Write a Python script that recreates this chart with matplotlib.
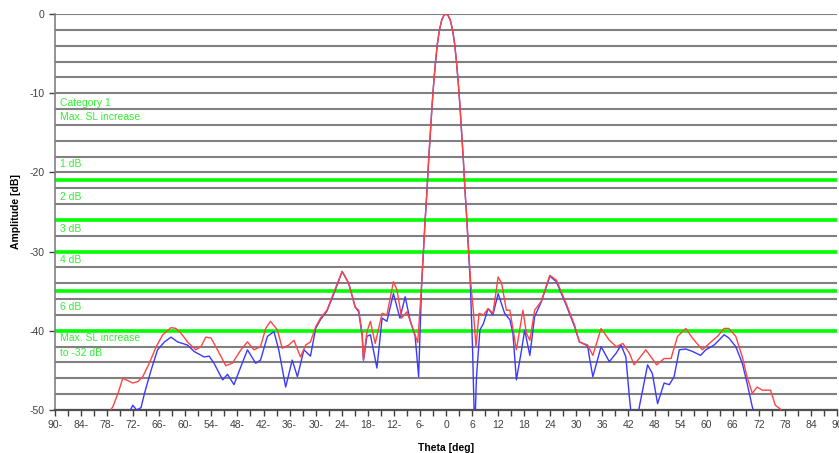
import numpy as np
import matplotlib
matplotlib.use('Agg')
import matplotlib.pyplot as plt

plt.rcParams['font.family'] = ['Liberation Sans', 'DejaVu Sans']
plt.rcParams['axes.unicode_minus'] = False

# red curve (theta [deg], amplitude [dB])
theta_red = [-78.0, -76.7, -75.5, -74.4, -73.2, -72.1, -70.9, -69.8, -68.3, -66.7,
             -65.2, -63.3, -62.2, -61.0, -59.5, -57.6, -56.4, -55.3, -54.1, -52.6,
             -50.7, -49.2, -47.2, -45.7, -44.2, -42.7, -41.5, -40.4, -38.8, -37.7,
             -36.2, -35.0, -33.5, -32.3, -31.2, -30.0, -28.9, -27.4, -25.8, -23.9,
             -22.4, -20.9, -20.1, -19.3, -19.0, -18.2, -17.4, -16.3, -14.7, -13.6,
             -12.1, -11.3, -10.2, -9.0, -7.5, -6.5, -5.6, -5.1, -4.8, -4.4, -4.0,
             -3.6, -3.2, -2.8, -2.4, -2.0, -1.5, -1.0, -0.5, 0.0, 0.5, 1.0, 1.5,
             2.0, 2.4, 2.8, 3.2, 3.6, 4.0, 4.4, 4.8, 5.1,
             5.7, 6.3, 6.9, 7.6, 8.6, 9.7, 10.8, 12.0, 12.8, 13.9,
             14.7, 16.2, 17.7, 18.5, 19.3, 20.4, 21.9, 23.9, 25.4, 27.7,
             29.6, 30.7, 32.6, 33.8, 35.7, 37.6, 39.2, 40.7, 42.2, 43.3,
             46.0, 48.5, 50.2, 51.8, 53.3, 55.2, 56.7, 59.0, 61.0, 62.5,
             64.0, 65.1, 66.7, 68.2, 69.3, 70.5, 71.6, 72.8, 74.7, 75.8,
             77.0, 78.0]
amp_red = [-50.6, -49.6, -47.9, -46.0, -46.3, -46.6, -46.4, -45.8, -44.1, -42.0,
           -40.5, -39.6, -39.7, -40.3, -41.4, -42.4, -42.0, -40.8, -40.9, -42.4,
           -44.4, -44.1, -42.4, -41.4, -42.4, -42.0, -39.7, -38.8, -39.9, -42.2,
           -41.8, -41.2, -43.3, -41.8, -41.4, -39.5, -38.4, -37.4, -35.1, -32.5,
           -34.0, -37.0, -37.4, -40.3, -43.7, -40.1, -38.8, -41.6, -37.8, -38.0,
           -33.8, -34.8, -38.4, -37.6, -39.9, -41.5, -34.0, -29.0, -26.0, -22.5, -18.5,
           -15.0, -11.5, -8.5, -6.0, -3.8, -2.0, -0.8, -0.2, 0.0, -0.2, -0.8, -2.0,
           -3.8, -6.0, -8.5, -11.5, -15.0, -18.5, -22.5, -26.0, -29.0,
           -34.0, -37.5, -42.0, -37.8, -38.0, -37.2, -37.8, -33.2, -34.0, -37.4,
           -37.4, -42.4, -37.4, -40.3, -41.2, -37.4, -36.3, -33.0, -33.6, -36.6,
           -39.3, -41.4, -41.8, -43.1, -39.7, -41.2, -42.0, -41.6, -42.8, -44.3,
           -42.4, -44.3, -43.5, -43.5, -40.7, -39.7, -40.9, -42.4, -41.4, -40.7,
           -39.7, -39.7, -40.7, -43.3, -45.8, -47.9, -47.1, -47.5, -47.5, -49.4,
           -49.9, -50.6]

# blue curve
theta_blue = [-73.0, -72.1, -71.2, -70.2, -69.4, -67.9, -66.4, -64.8, -63.3, -61.8,
              -59.5, -58.0, -55.7, -54.5, -53.4, -51.4, -50.3, -48.8, -47.2, -45.7,
              -43.8, -42.7, -41.1, -39.6, -38.5, -36.9, -35.4, -34.2, -32.7, -31.2,
              -30.0, -28.9, -27.4, -25.8, -23.9, -22.4, -20.9, -20.1, -19.3, -19.0,
              -18.2, -17.4, -15.9, -14.7, -13.6, -12.1, -10.6, -9.4, -8.3, -7.1,
              -6.3, -5.6, -5.1, -4.8, -4.4, -4.0, -3.6, -3.2, -2.8, -2.4, -2.0,
              -1.5, -1.0, -0.5, 0.0, 0.5, 1.0, 1.5, 2.0, 2.4, 2.8, 3.2, 3.6, 4.0,
              4.4, 4.8, 5.1, 5.6, 6.1, 6.6, 7.0, 7.8,
              8.6, 9.7, 10.8, 12.0, 13.5, 14.7, 15.4, 16.2, 17.4, 18.1,
              19.3, 20.4, 21.9, 23.9, 25.4, 27.7, 29.6, 30.7, 32.6, 33.0,
              33.8, 35.7, 37.6, 39.2, 40.3, 41.4, 42.2, 42.8, 44.0, 44.5,
              46.4, 47.5, 48.7, 50.2, 51.4, 52.5, 53.7, 55.2, 56.7, 58.6,
              59.8, 61.7, 62.8, 64.0, 65.1, 66.7, 68.2, 69.3, 70.5, 71.0]
amp_blue = [-50.4, -49.4, -50.0, -49.7, -47.9, -45.0, -42.4, -41.4, -40.8, -41.4,
            -41.8, -42.6, -43.3, -43.2, -44.1, -46.2, -45.5, -46.8, -44.5, -42.4,
            -44.1, -43.7, -40.7, -40.1, -42.4, -47.1, -43.7, -45.8, -42.4, -43.2,
            -39.7, -38.6, -37.5, -35.3, -32.5, -34.0, -37.0, -37.6, -40.6, -43.7,
            -40.7, -40.5, -44.7, -38.4, -38.8, -35.3, -38.4, -35.7, -38.6, -40.7,
            -45.8, -34.0, -29.0, -26.0, -22.5, -18.5, -15.0, -11.5, -8.5, -6.0, -3.8,
            -2.0, -0.8, -0.2, 0.0, -0.2, -0.8, -2.0, -3.8, -6.0, -8.5, -11.5, -15.0, -18.5,
            -22.5, -26.0, -29.0, -34.0, -42.0, -53.0, -46.0, -39.9,
            -39.1, -37.2, -38.0, -35.3, -37.8, -38.6, -40.3, -46.2, -42.4, -39.9,
            -43.1, -38.2, -36.4, -33.1, -33.8, -36.8, -39.5, -41.4, -41.9, -43.3,
            -45.8, -42.0, -43.9, -42.8, -41.8, -43.3, -48.3, -51.5, -51.5, -49.6,
            -44.3, -45.4, -49.2, -46.6, -46.8, -45.8, -42.4, -42.3, -42.6, -43.1,
            -42.4, -41.8, -41.2, -40.5, -40.9, -42.0, -44.1, -46.6, -49.6, -50.5]

# category limit lines and their labels
limit_levels = [-21, -26, -30, -35, -40]
note_texts = ['Category 1', 'Max. SL increase', '1 dB', '2 dB', '3 dB', '4 dB',
              '6 dB', 'Max. SL increase', 'to -32 dB']
note_levels = [-11.2, -13.0, -18.9, -23.1, -27.1, -31.1, -37.0, -40.9, -42.8]

x_ticks = list(range(-90, 91, 6))
x_labels = ['90-', '84-', '78-', '72-', '66-', '60-', '54-', '48-', '42-', '36-',
            '30-', '24-', '18-', '12-', '6-', '0', '6', '12', '18', '24', '30',
            '36', '42', '48', '54', '60', '66', '72', '78', '84', '90']
y_ticks = [0, -10, -20, -30, -40, -50]

fig = plt.figure(figsize=(8.39, 4.53), dpi=100)
ax = fig.add_axes([55/839, 43/453, 782/839, 396/453])

# grey grid every 2 dB
for g in range(0, -51, -2):
    ax.axhline(g, color='#808080', lw=1.5, zorder=1)

for lv in limit_levels:
    ax.axhline(lv, color='#00ff00', lw=2.6, zorder=2)

for t, lv in zip(note_texts, note_levels):
    ax.text(-88.8, lv, t, color='#33ee33', fontsize=7.5, va='center', ha='left', zorder=3)

ax.plot(theta_blue, amp_blue, color='#3a3aff', lw=1.0, zorder=4)
ax.plot(theta_red, amp_red, color='#ff4444', lw=1.0, zorder=5)

ax.set_xlim(-90, 90)
ax.set_ylim(-50, 0)
ax.set_xticks(x_ticks)
ax.set_xticklabels(x_labels)
ax.set_xticks(list(range(-87, 90, 6)), minor=True)
ax.set_yticks(y_ticks)
ax.tick_params(axis='both', labelsize=7.5, colors='#404040', length=4, width=1)
ax.tick_params(axis='x', which='minor', length=4, width=1, color='#404040')

for s in ['top', 'right']:
    ax.spines[s].set_visible(False)
ax.spines['left'].set_color('#808080')
ax.spines['left'].set_linewidth(1.2)
ax.spines['bottom'].set_color('#505050')
ax.spines['bottom'].set_linewidth(1.6)

ax.set_xlabel('Theta [deg]', fontsize=7.5, fontweight='bold', labelpad=9)
ax.set_ylabel('Amplitude [dB]', fontsize=7.5, fontweight='bold')
ax.yaxis.set_label_coords(-0.043, 0.5)

fig.savefig('out.png', dpi=100)
